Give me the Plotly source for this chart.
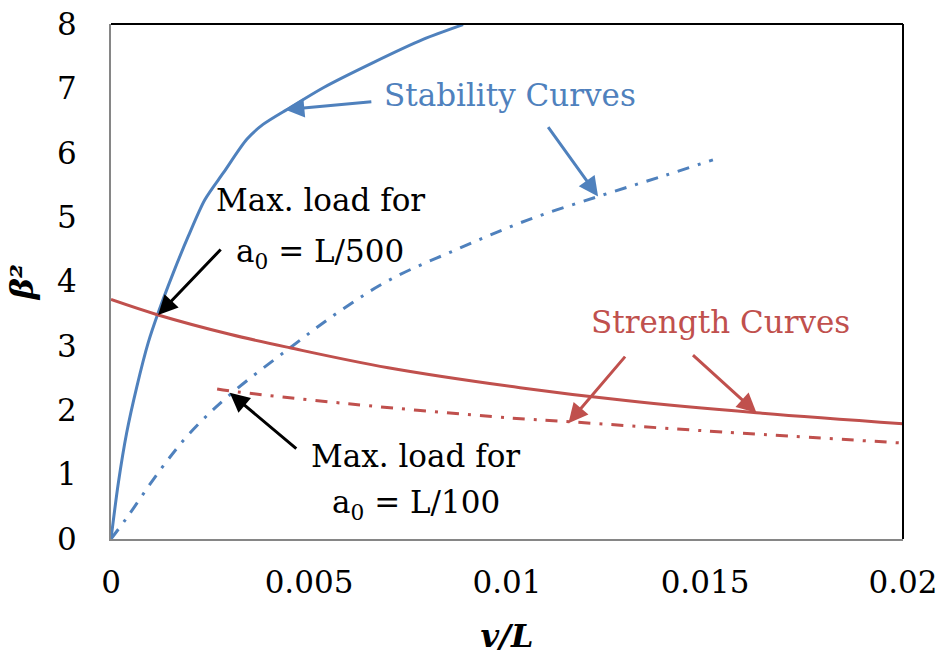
import plotly.graph_objects as go

# ---- data ----
stab500_x = [0, 0.000185, 0.000396, 0.00065, 0.00094, 0.00119, 0.00157, 0.00195, 0.00237, 0.00284, 0.00343, 0.00384, 0.00452, 0.00536, 0.00662, 0.00788, 0.00889]
stab500_y = [0, 0.87, 1.65, 2.36, 3.05, 3.51, 4.13, 4.70, 5.27, 5.69, 6.21, 6.44, 6.70, 7.01, 7.40, 7.76, 7.99]

stab100_x = [0, 0.00040, 0.00124, 0.00200, 0.00300, 0.00452, 0.00580, 0.00705, 0.00874, 0.01050, 0.01235, 0.01400, 0.01520]
stab100_y = [0, 0.33, 1.07, 1.65, 2.24, 2.97, 3.55, 4.03, 4.50, 4.95, 5.33, 5.65, 5.89]

str500_x = [0, 0.00119, 0.00300, 0.00452, 0.00700, 0.01033, 0.01300, 0.01630, 0.02000]
str500_y = [3.72, 3.48, 3.18, 2.97, 2.66, 2.35, 2.15, 1.96, 1.79]

str100_x = [0.00268, 0.00300, 0.00600, 0.01008, 0.01160, 0.01500, 0.02000]
str100_y = [2.33, 2.30, 2.10, 1.88, 1.82, 1.68, 1.49]

x_ticks = [0, 0.005, 0.01, 0.015, 0.02]
x_tick_text = ["0", "0.005", "0.01", "0.015", "0.02"]
y_ticks = [0, 1, 2, 3, 4, 5, 6, 7, 8]

BLUE = "#4F81BD"
RED = "#C0504D"
FONT = "DejaVu Serif"
DASHDOT = "12px,9px,3px,9px"

fig = go.Figure()
fig.add_trace(go.Scatter(x=stab500_x, y=stab500_y, mode="lines", line=dict(color=BLUE, width=3, shape="spline", smoothing=0.8), showlegend=False, hoverinfo="skip", cliponaxis=False))
fig.add_trace(go.Scatter(x=stab100_x, y=stab100_y, mode="lines", line=dict(color=BLUE, width=3, shape="spline", dash=DASHDOT), showlegend=False, hoverinfo="skip"))
fig.add_trace(go.Scatter(x=str500_x, y=str500_y, mode="lines", line=dict(color=RED, width=3, shape="spline"), showlegend=False, hoverinfo="skip"))
fig.add_trace(go.Scatter(x=str100_x, y=str100_y, mode="lines", line=dict(color=RED, width=3, shape="spline", dash=DASHDOT), showlegend=False, hoverinfo="skip"))

def arrow(x, y, ax, ay, color):
    fig.add_annotation(x=x, y=y, ax=ax, ay=ay, text="", showarrow=True,
                       arrowhead=2, arrowsize=1.3, arrowwidth=3, arrowcolor=color,
                       standoff=0, startstandoff=0)

# arrows (tip in data coords, tail offset in px)
arrow(0.00119, 3.48, 64, -67, "black")
arrow(0.00300, 2.27, 68, 57, "black")
arrow(0.00439, 6.67, 88, -8, BLUE)
arrow(0.01230, 5.32, -51, -71, BLUE)
arrow(0.01155, 1.80, 58, -68, RED)
arrow(0.01630, 1.96, -65, -59, RED)

def label(x, y, text, color):
    fig.add_annotation(x=x, y=y, text=text, showarrow=False,
                       font=dict(family=FONT, size=31, color=color),
                       xanchor="center", yanchor="middle", align="center")

label(0.01008, 6.90, "Stability Curves", BLUE)
label(0.01538, 3.37, "Strength Curves", RED)
label(0.00528, 5.27, "Max. load for", "black")
label(0.00528, 4.44, "a<sub>0</sub> = L/500", "black")
label(0.00770, 1.29, "Max. load for", "black")
label(0.00770, 0.54, "a<sub>0</sub> = L/100", "black")

# top and right frame lines (black)
fig.add_shape(type="line", xref="paper", yref="paper", x0=0, x1=1, y0=1, y1=1, line=dict(color="black", width=2))
fig.add_shape(type="line", xref="paper", yref="paper", x0=1, x1=1, y0=0, y1=1, line=dict(color="black", width=2))

fig.update_layout(
    width=943, height=658,
    margin=dict(l=111, r=40, t=24, b=119, autoexpand=False),
    paper_bgcolor="white", plot_bgcolor="white",
    font=dict(family=FONT, size=31, color="black"),
    xaxis=dict(range=[0, 0.02], tickvals=x_ticks, ticktext=x_tick_text, automargin=False,
               showgrid=False, zeroline=False, showline=True, linecolor="#868686", linewidth=2,
               ticks="", ticklabelstandoff=15, tickfont=dict(family=FONT, size=31),
               title=dict(text="<b><i>v/L</i></b>", font=dict(family=FONT, size=32), standoff=25)),
    yaxis=dict(range=[0, 8], tickvals=y_ticks, automargin=False,
               showgrid=False, zeroline=False, showline=True, linecolor="#868686", linewidth=2,
               ticks="", ticklabelstandoff=26, tickfont=dict(family=FONT, size=31),
               title=dict(text="<b><i>β²</i></b>", font=dict(family=FONT, size=32), standoff=14)),
)

fig.write_html("out.html")
